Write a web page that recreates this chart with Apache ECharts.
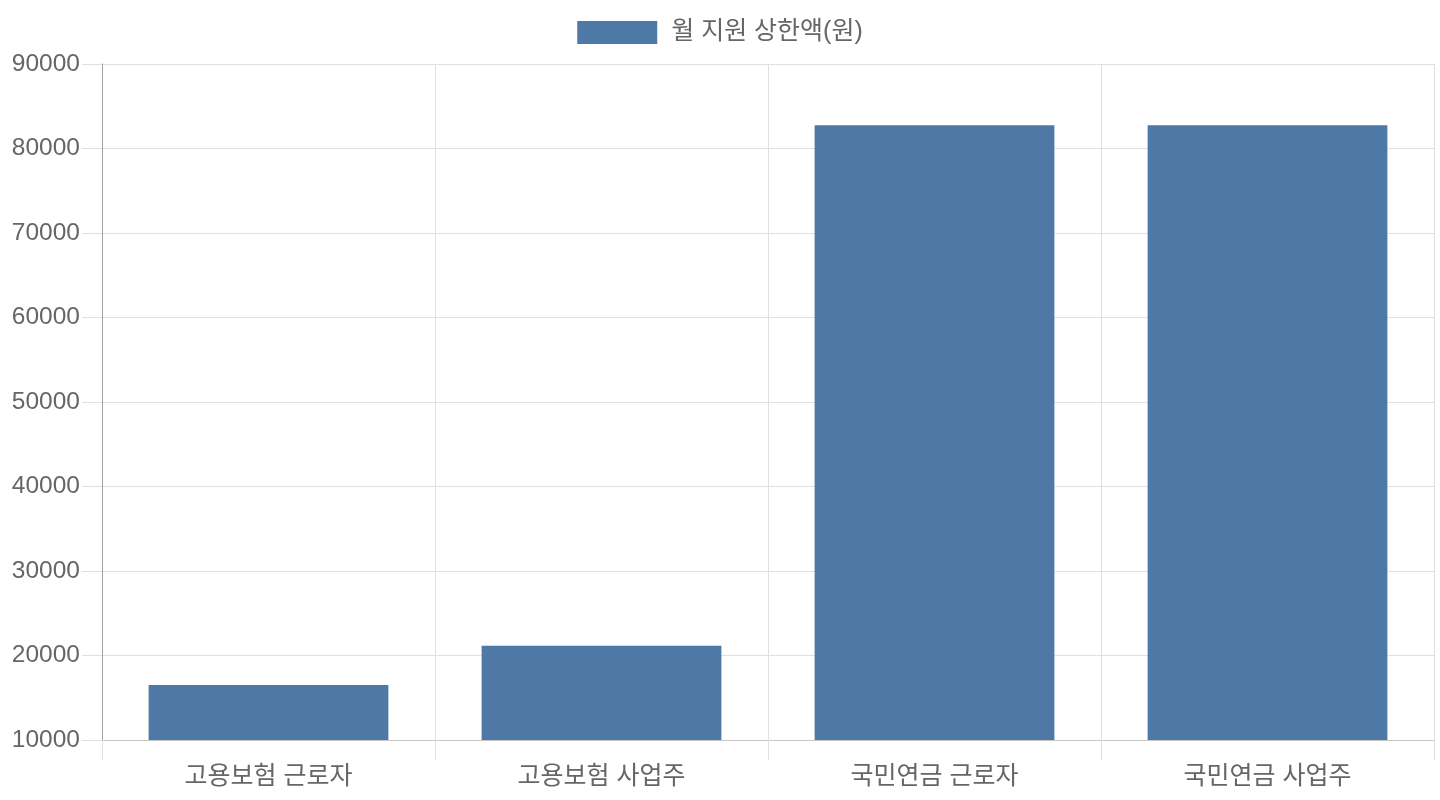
<!DOCTYPE html>
<html><head><meta charset="utf-8">
<script src="https://cdn.jsdelivr.net/npm/echarts@6/dist/echarts.min.js"></script>
<style>html,body{margin:0;padding:0;background:#fff}#c{width:1440px;height:800px}</style>
</head><body><div id="c"></div>
<script>
const categories = ['고용보험 근로자', '고용보험 사업주', '국민연금 근로자', '국민연금 사업주'];
const seriesName = '월 지원 상한액(원)';
const values = [16520, 21160, 82740, 82740];
const yMin = 10000, yMax = 90000, yStep = 10000;

const FONT = '"Liberation Sans", "Noto Sans CJK KR", sans-serif';
const chart = echarts.init(document.getElementById('c'));
chart.setOption({
  animation: false,
  textStyle: { fontFamily: FONT },
  legend: {
    top: 15, left: 'center',
    itemWidth: 80, itemHeight: 23, itemGap: 10,
    textStyle: { fontSize: 25, color: '#666', fontFamily: FONT, padding: [0, 0, 0, 9] },
    data: [{ name: seriesName, icon: 'rect' }]
  },
  grid: { left: 102, right: 6, top: 64, bottom: 60, containLabel: false },
  xAxis: {
    type: 'category', data: categories, boundaryGap: true,
    axisLine: { show: true, lineStyle: { color: '#c8c8c8', width: 1 } },
    axisTick: { show: true, length: 20, alignWithLabel: false, lineStyle: { color: '#e0e0e0' } },
    splitLine: { show: true, lineStyle: { color: '#e0e0e0', width: 1 } },
    axisLabel: { fontSize: 25, color: '#666', margin: 25, fontFamily: FONT }
  },
  yAxis: {
    type: 'value', min: yMin, max: yMax, interval: yStep,
    axisLine: { show: true, lineStyle: { color: '#a0a0a0', width: 1 } },
    axisTick: { show: true, length: 20, lineStyle: { color: '#e0e0e0' } },
    splitLine: { show: true, lineStyle: { color: '#e0e0e0', width: 1 } },
    axisLabel: { fontSize: 24.5, color: '#666', margin: 22, fontFamily: FONT, formatter: v => String(v) }
  },
  series: [{
    name: seriesName, type: 'bar', data: values,
    barCategoryGap: '28%',
    itemStyle: { color: '#4e79a7' }
  }]
});
</script></body></html>
